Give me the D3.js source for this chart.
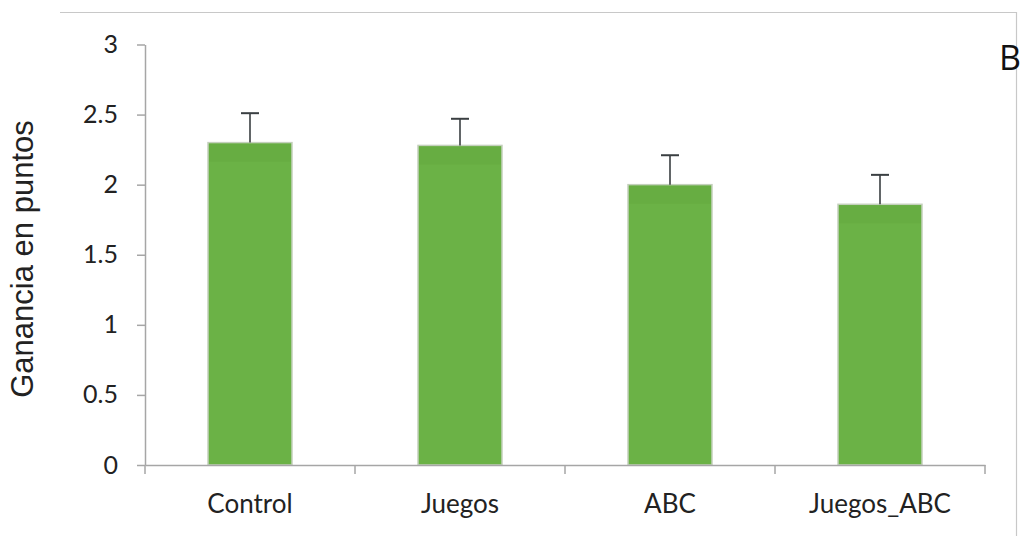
<!DOCTYPE html>
<html>
<head>
<meta charset="utf-8">
<script src="https://cdn.jsdelivr.net/npm/d3@7"></script>
<style>
  html, body { margin: 0; padding: 0; background: #fff; }
  svg { display: block; }
</style>
</head>
<body>
<svg id="chart" width="1021" height="536"></svg>
<script>
// Ganancia media por grupo, con su error estándar
const categories = ["Control", "Juegos", "ABC", "Juegos_ABC"];
const means = [2.30, 2.28, 2.00, 1.86];
const errors = [0.21, 0.19, 0.21, 0.21];
const yTicks = [0, 0.5, 1, 1.5, 2, 2.5, 3];
const yTickLabels = ["0", "0.5", "1", "1.5", "2", "2.5", "3"];

const svg = d3.select("#chart");
const axisColor = "#a6a6a6";
const tickFont = "Lato, 'Open Sans', sans-serif";

// Marco del panel (línea superior y borde derecho)
svg.append("path")
  .attr("d", "M60,12.5 H1016.5 V536")
  .attr("fill", "none")
  .attr("stroke", "#c8c8c8")
  .attr("stroke-width", 1.2);

const plot = { left: 145, right: 985, top: 44.5, bottom: 465 };

const x = d3.scaleBand()
  .domain(categories)
  .range([plot.left, plot.right])
  .paddingInner(0.6)
  .paddingOuter(0.3);

const y = d3.scaleLinear()
  .domain([0, 3])
  .range([plot.bottom, plot.top]);

// Barras
svg.append("g").selectAll("rect")
  .data(categories)
  .join("rect")
  .attr("x", d => x(d))
  .attr("y", (d, i) => y(means[i]))
  .attr("width", x.bandwidth())
  .attr("height", (d, i) => y(0) - y(means[i]))
  .attr("fill", "#6bb246")
  .attr("stroke", "#c4d0bc")
  .attr("stroke-width", 1.5);

// Franja superior algo más oscura de cada barra
svg.append("g").selectAll("rect")
  .data(categories)
  .join("rect")
  .attr("x", d => x(d) + 1)
  .attr("y", (d, i) => y(means[i]) + 1)
  .attr("width", x.bandwidth() - 2)
  .attr("height", 18)
  .attr("fill", "#64a63f")
  .attr("opacity", 0.45);

// Barras de error (solo hacia arriba)
const err = svg.append("g")
  .attr("stroke", "#3a3f42")
  .attr("stroke-width", 1.6);
categories.forEach((c, i) => {
  const cx = x(c) + x.bandwidth() / 2;
  err.append("line")
    .attr("x1", cx).attr("x2", cx)
    .attr("y1", y(means[i])).attr("y2", y(means[i] + errors[i]));
  err.append("line")
    .attr("x1", cx - 9).attr("x2", cx + 9)
    .attr("y1", y(means[i] + errors[i])).attr("y2", y(means[i] + errors[i]))
    .attr("stroke-width", 2);
});

// Eje Y
const yAxis = svg.append("g")
  .attr("transform", `translate(${plot.left},0)`)
  .call(d3.axisLeft(y)
    .tickValues(yTicks)
    .tickFormat((d, i) => yTickLabels[i])
    .tickSizeInner(8)
    .tickSizeOuter(0)
    .tickPadding(19));
yAxis.select(".domain").attr("stroke", axisColor).attr("stroke-width", 1.5);
yAxis.selectAll(".tick line").attr("stroke", axisColor).attr("stroke-width", 1.5);
yAxis.selectAll(".tick text")
  .attr("font-family", tickFont)
  .attr("font-size", 25)
  .attr("fill", "#222");

// Eje X con marcas entre categorías
const xAxis = svg.append("g")
  .attr("transform", `translate(0,${plot.bottom})`)
  .call(d3.axisBottom(x).tickSize(0).tickPadding(30));
xAxis.select(".domain").attr("stroke", axisColor).attr("stroke-width", 1.5);
xAxis.selectAll(".tick text")
  .attr("font-family", tickFont)
  .attr("font-size", 26)
  .attr("fill", "#222");

const step = x.step();
const boundaries = d3.range(categories.length + 1)
  .map(i => plot.left + i * step);
svg.append("g").selectAll("line")
  .data(boundaries)
  .join("line")
  .attr("x1", d => d).attr("x2", d => d)
  .attr("y1", plot.bottom).attr("y2", plot.bottom + 9)
  .attr("stroke", axisColor)
  .attr("stroke-width", 1.5);

// Título del eje Y
svg.append("text")
  .attr("transform", "translate(33,259) rotate(-90)")
  .attr("text-anchor", "middle")
  .attr("font-family", "'Liberation Sans', Arial, sans-serif")
  .attr("font-size", 31)
  .attr("fill", "#222")
  .text("Ganancia en puntos");

// Letra del panel
svg.append("text")
  .attr("x", 999)
  .attr("y", 70)
  .attr("font-family", "'Open Sans', 'Noto Sans', sans-serif")
  .attr("font-size", 34)
  .attr("fill", "#111")
  .text("B");
</script>
</body>
</html>
